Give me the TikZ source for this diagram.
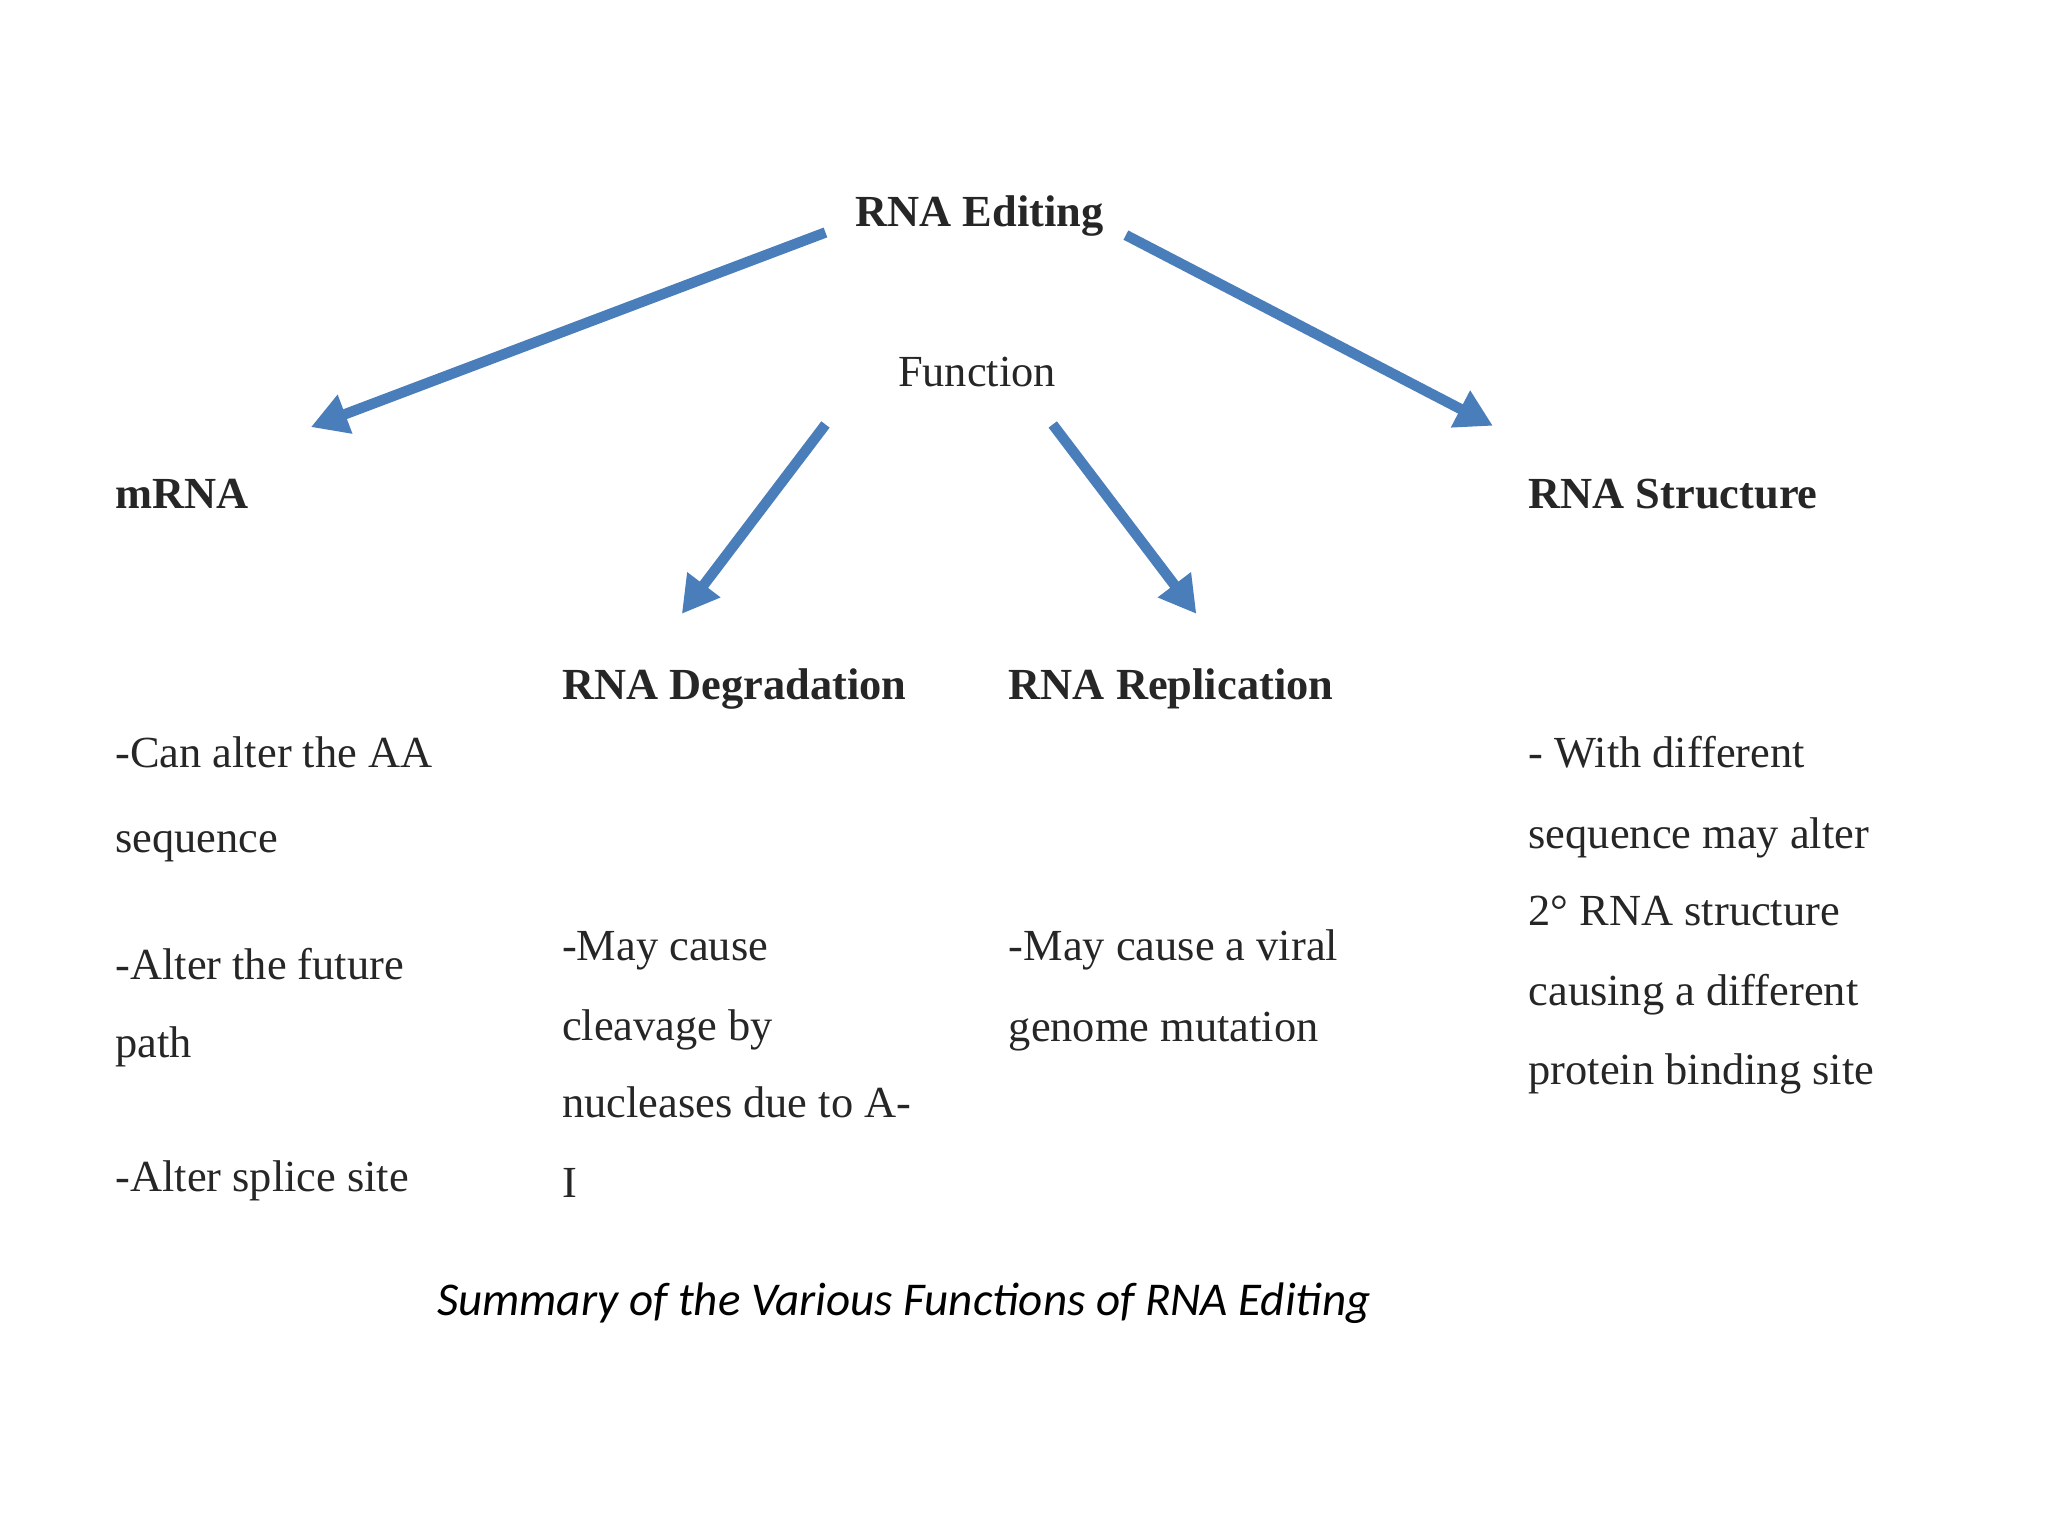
\documentclass[tikz,border=0pt]{standalone}
\usepackage{fontspec}
\setmainfont{Liberation Serif}
\newfontfamily\capfont{Carlito}
\usetikzlibrary{arrows.meta}
\definecolor{arrblue}{HTML}{4A7EBB}
\begin{document}
\begin{tikzpicture}[x=0.5pt,y=-0.5pt,
  txt/.style={anchor=mid west,inner sep=0pt,font=\fontsize{17}{20}\selectfont,text=black!85},
  head/.style={txt,font=\fontsize{17}{20}\selectfont\bfseries},
  arr/.style={draw=arrblue,line width=4pt,-{Triangle[width=15pt,length=14pt]}}]
\fill[white] (0,0) rectangle (1568,1176);
\useasboundingbox (0,0) rectangle (1568,1176);
\node[head,anchor=center] (edit) at (750,165) {RNA Editing};
\node[txt,anchor=center] (func) at (748,285) {Function};
\node[head] (mrna) at (88,385) {mRNA};
\node[head] (struct) at (1170,385) {RNA Structure};
\node[head] (degr) at (430,531) {RNA Degradation};
\node[head] (repl) at (772,531) {RNA Replication};
% mRNA
\node[txt] (m1) at (88,583) {-Can alter the AA};
\node[txt] (m2) at (88,648) {sequence};
\node[txt] (m3) at (88,745) {-Alter the future};
\node[txt] (m4) at (88,805) {path};
\node[txt] (m5) at (88,908) {-Alter splice site};
% degradation
\node[txt] (d1) at (430,731) {-May cause};
\node[txt] (d2) at (430,792) {cleavage by};
\node[txt] (d3) at (430,851) {nucleases due to A-};
\node[txt] (d4) at (430,912) {I};
% replication
\node[txt] (r1) at (772,731) {-May cause a viral};
\node[txt] (r2) at (772,793) {genome mutation};
% structure
\node[txt] (s1) at (1170,583) {- With different};
\node[txt] (s2) at (1170,645) {sequence may alter};
\node[txt] (s3) at (1170,704) {2° RNA structure};
\node[txt] (s4) at (1170,765) {causing a different};
\node[txt] (s5) at (1170,826) {protein binding site};
\node[anchor=center,inner sep=0pt,font=\capfont\itshape\fontsize{18}{20}\selectfont] (cap) at (692,998) {Summary of the Various Functions of RNA Editing};
% arrows
\coordinate (a1s) at (632,178); \coordinate (a1e) at (238,327);
\coordinate (a2s) at (862,180); \coordinate (a2e) at (1143,326);
\coordinate (a3s) at (632,325); \coordinate (a3e) at (522,470);
\coordinate (a4s) at (806,325); \coordinate (a4e) at (916,470);
\draw[arr] (a1s) -- (a1e);
\draw[arr] (a2s) -- (a2e);
\draw[arr] (a3s) -- (a3e);
\draw[arr] (a4s) -- (a4e);
\end{tikzpicture}
\end{document}
